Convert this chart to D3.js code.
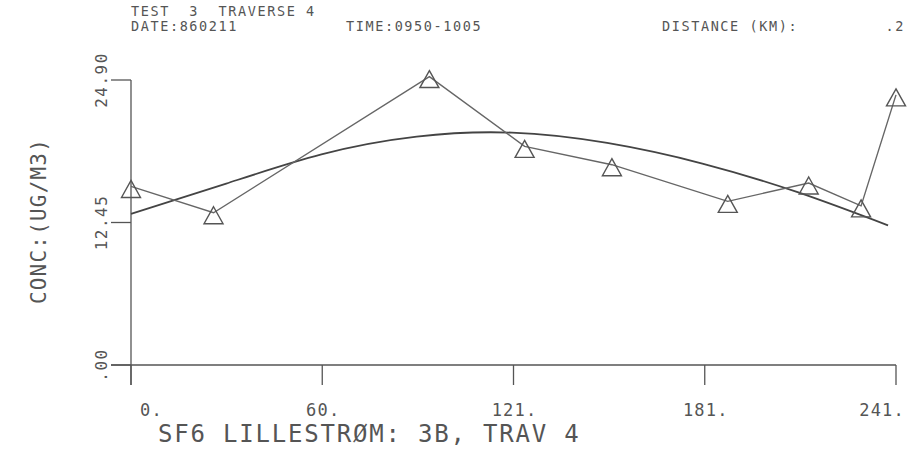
<!DOCTYPE html>
<html>
<head>
<meta charset="utf-8">
<script src="https://cdn.jsdelivr.net/npm/d3@7"></script>
<style>
  body { margin: 0; background: #fff; }
  svg text { font-family: "DejaVu Sans Mono", monospace; fill: #555; }
</style>
</head>
<body>
<svg id="chart" width="916" height="472"></svg>
<script>
// Measured SF6 concentrations along traverse 4 (distance in m, conc in ug/m3)
const distance = [0, 26, 94, 124, 151.5, 188, 213.5, 230, 241];
const concentration = [15.6, 13.3, 25.2, 19.1, 17.5, 14.3, 15.9, 13.9, 23.6];

// Smoothed trend through the traverse
const trendDistance = [0, 30, 60, 90, 120, 150, 180, 210, 238.5];
const trendConc = [13.2, 15.85, 18.4, 19.95, 20.3, 19.4, 17.6, 15.1, 12.2];

// Axis ticks
const yTicks = [0, 12.45, 24.90];
const yTickLabels = [".00", "12.45", "24.90"];
const xTicks = [0, 60.25, 120.5, 180.75, 241];
const xTickLabels = ["0.", "60.", "121.", "181.", "241."];

// Header and titles
const headerLine1 = "TEST  3  TRAVERSE 4";
const headerDate = "DATE:860211";
const headerTime = "TIME:0950-1005";
const headerDistLabel = "DISTANCE (KM):";
const headerDistValue = ".2";
const yTitle = "CONC:(UG/M3)";
const xTitle = "SF6 LILLESTRØM: 3B, TRAV 4";

const svg = d3.select("#chart");
const ink = "#555";

const x = d3.scaleLinear().domain([0, 241]).range([131, 896]);
const y = d3.scaleLinear().domain([0, 24.90]).range([365, 80]);
const tickLen = 20;

// Axes: lines cross at the origin, ticks point outward
const axes = svg.append("g").attr("stroke", ink).attr("stroke-width", 1.3).attr("fill", "none");
axes.append("line")
  .attr("x1", x(0) - tickLen).attr("x2", x(241))
  .attr("y1", y(0)).attr("y2", y(0));
axes.append("line")
  .attr("x1", x(0)).attr("x2", x(0))
  .attr("y1", y(24.90)).attr("y2", y(0) + tickLen);
axes.selectAll(".yt").data(yTicks).join("line")
  .attr("x1", x(0) - tickLen).attr("x2", x(0))
  .attr("y1", d => y(d)).attr("y2", d => y(d));
axes.selectAll(".xt").data(xTicks).join("line")
  .attr("x1", d => x(d)).attr("x2", d => x(d))
  .attr("y1", y(0)).attr("y2", y(0) + tickLen);

// Y tick labels, rotated
svg.selectAll(".ylab").data(yTicks).join("text")
  .attr("transform", d => `translate(107,${y(d)}) rotate(-90)`)
  .attr("text-anchor", "middle")
  .attr("font-size", 16).attr("letter-spacing", 1.5)
  .text((d, i) => yTickLabels[i]);

// X tick labels
svg.selectAll(".xlab").data(xTicks).join("text")
  .attr("x", (d, i) => x(d) + (i === 0 ? 9 : (i === xTicks.length - 1 ? 9 : 1)))
  .attr("y", 416)
  .attr("text-anchor", (d, i) => i === 0 ? "start" : (i === xTicks.length - 1 ? "end" : "middle"))
  .attr("font-size", 17).attr("letter-spacing", 1.2)
  .text((d, i) => xTickLabels[i]);

// Axis titles
svg.append("text")
  .attr("transform", `translate(46,221) rotate(-90)`)
  .attr("text-anchor", "middle")
  .attr("font-size", 21).attr("letter-spacing", 1.2)
  .text(yTitle);
svg.append("text")
  .attr("x", 158).attr("y", 442)
  .attr("font-size", 24).attr("letter-spacing", 1.8)
  .text(xTitle);

// Header block
const header = svg.append("g").attr("font-size", 13.5).attr("letter-spacing", 1.6);
header.append("text").attr("x", 131).attr("y", 16).attr("xml:space", "preserve").text(headerLine1);
header.append("text").attr("x", 131).attr("y", 31).text(headerDate);
header.append("text").attr("x", 346).attr("y", 31).text(headerTime);
header.append("text").attr("x", 662).attr("y", 31).text(headerDistLabel);
header.append("text").attr("x", 905).attr("y", 31).attr("text-anchor", "end").text(headerDistValue);

// Trend curve
const trend = trendDistance.map((d, i) => [d, trendConc[i]]);
svg.append("path")
  .datum(trend)
  .attr("fill", "none").attr("stroke", "#444").attr("stroke-width", 1.8)
  .attr("d", d3.line().x(d => x(d[0])).y(d => y(d[1])).curve(d3.curveNatural));

// Measured series: polyline with triangle markers
const pts = distance.map((d, i) => [d, concentration[i]]);
svg.append("path")
  .datum(pts)
  .attr("fill", "none").attr("stroke", "#666").attr("stroke-width", 1.4)
  .attr("d", d3.line().x(d => x(d[0])).y(d => y(d[1])));

const tri = "M0,-6 L9.5,11 L-9.5,11 Z";
svg.selectAll(".mk").data(pts).join("path")
  .attr("transform", d => `translate(${x(d[0])},${y(d[1])})`)
  .attr("d", tri)
  .attr("fill", "none").attr("stroke", "#555").attr("stroke-width", 1.4);
</script>
</body>
</html>
